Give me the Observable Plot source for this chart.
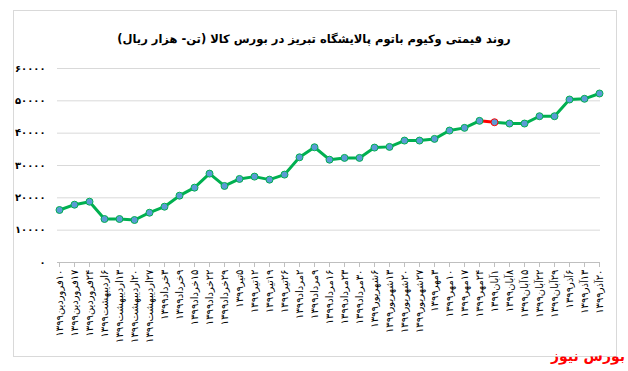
<!DOCTYPE html>
<html><head><meta charset="utf-8">
<script src="https://cdn.jsdelivr.net/npm/d3@7"></script>
<script src="https://cdn.jsdelivr.net/npm/@observablehq/plot@0.6"></script>
<style>
body{margin:0;background:#fff;font-family:"DejaVu Sans",sans-serif;}
#wrap{position:relative;width:628px;height:371px;overflow:hidden;background:#fff;}
#frame{position:absolute;left:13px;top:10px;width:602px;height:345px;border:1px solid #d9d9d9;}
#title{position:absolute;top:32px;left:0;width:628px;text-align:center;font-weight:bold;font-size:11.5px;direction:rtl;color:#000;}
#chart{position:absolute;left:0;top:0;}
#brand{position:absolute;right:3px;top:348px;color:#ff0000;font-weight:bold;font-size:14px;direction:rtl;}
</style></head>
<body>
<div id="wrap"><div id="frame"></div><div id="chart"></div>
<div id="title">روند قیمتی وکیوم باتوم پالایشگاه تبریز در بورس کالا (تن- هزار ریال)</div>
<div id="brand">بورس نیوز</div></div>
<script>
const labels = ["۱۰فروردین۱۳۹۹","۱۷فروردین۱۳۹۹","۲۴فروردین۱۳۹۹","۶اردیبهشت۱۳۹۹","۱۳اردیبهشت۱۳۹۹","۲۰اردیبهشت۱۳۹۹","۲۷اردیبهشت۱۳۹۹","۳خرداد۱۳۹۹","۹خرداد۱۳۹۹","۱۵خرداد۱۳۹۹","۲۲خرداد۱۳۹۹","۲۹خرداد۱۳۹۹","۵تیر۱۳۹۹","۱۲تیر۱۳۹۹","۱۹تیر۱۳۹۹","۲۶تیر۱۳۹۹","۲مرداد۱۳۹۹","۹مرداد۱۳۹۹","۱۶مرداد۱۳۹۹","۲۳مرداد۱۳۹۹","۳۰مرداد۱۳۹۹","۶شهریور۱۳۹۹","۱۳شهریور۱۳۹۹","۲۰شهریور۱۳۹۹","۲۷شهریور۱۳۹۹","۳مهر۱۳۹۹","۱۰مهر۱۳۹۹","۱۷مهر۱۳۹۹","۲۴مهر۱۳۹۹","۱آبان۱۳۹۹","۸آبان۱۳۹۹","۱۵آبان۱۳۹۹","۲۲آبان۱۳۹۹","۲۹آبان۱۳۹۹","۶آذر۱۳۹۹","۱۳آذر۱۳۹۹","۲۰آذر۱۳۹۹"];
const values = [16240,17880,18810,13450,13450,13140,15400,17260,20670,23150,27490,23670,25840,26560,25630,27180,32540,35640,31800,32350,32350,35540,35760,37710,37710,38230,40810,41640,43810,43380,42980,42980,45240,45240,50410,50630,52270];
const yTicks = [0,10000,20000,30000,40000,50000,60000];
const highlightFrom = 28; // segment from index 28 to 29 drawn red

const data = labels.map((l,i)=>({label:l, value:values[i], i}));
const segs = data.slice(0,-1).map((d,i)=>({x1:d.label,y1:d.value,x2:data[i+1].label,y2:data[i+1].value,i}));
const toFa = n => String(n).replace(/\d/g, c => "۰۱۲۳۴۵۶۷۸۹"[c]);
const green = "#00b050", red = "#ff0000";

const chart = Plot.plot({
  width:628, height:371,
  marginTop:68, marginBottom:109, marginLeft:57, marginRight:28,
  style:{fontFamily:"DejaVu Sans", background:"transparent", color:"#000"},
  x:{type:"point", domain:labels, padding:0},
  y:{domain:[0,60000]},
  color:{type:"identity"},
  marks:[
    Plot.gridY(yTicks, {stroke:"#d9d9d9", strokeOpacity:1}),
    Plot.axisY(yTicks, {tickSize:0, tickPadding:12, tickFormat:toFa, fontSize:10, fontWeight:"bold", label:null}),
    Plot.ruleY([0], {stroke:"#bfbfbf"}),
    Plot.axisX({tickSize:5, tickPadding:2, tickRotate:-90, tickFormat: s => "\u202B" + s + "\u202C", fontSize:10, label:null, stroke:"#bfbfbf"}),
    Plot.link(segs, {x1:"x1", y1:"y1", x2:"x2", y2:"y2", stroke: d => d.i === highlightFrom ? red : green, strokeWidth:3, strokeLinecap:"round"}),
    Plot.dot(data, {x:"label", y:"value", r:3.5, fill:"#5b9bd5", stroke: d => d.i === highlightFrom + 1 ? red : green, strokeWidth:1})
  ]
});
document.getElementById("chart").appendChild(chart);
</script>
</body></html>
